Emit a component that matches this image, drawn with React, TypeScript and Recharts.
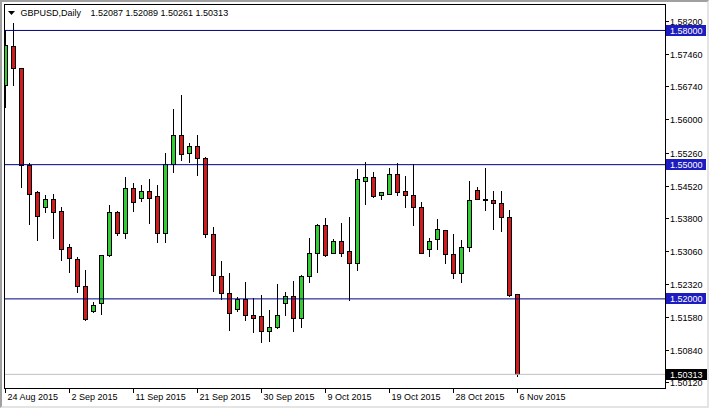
import React from "react"
import { Bar, ComposedChart, ReferenceLine, XAxis, YAxis } from "recharts"

// daily GBPUSD bars, 24 Aug 2015 .. 6 Nov 2015 (broker feed incl. sunday bars)
const opens = [
  1.5678, 1.5763, 1.5714, 1.5499, 1.5437, 1.5405, 1.5423, 1.5396, 1.5314, 1.5289,
  1.5227, 1.5171, 1.5189, 1.5296, 1.5394, 1.5347, 1.5446, 1.5425, 1.5441, 1.5428,
  1.5347, 1.5501, 1.5566, 1.5524, 1.554, 1.5513, 1.5345, 1.5251, 1.5211, 1.5177,
  1.5198, 1.5162, 1.516, 1.5126, 1.5137, 1.5189, 1.5206, 1.5157, 1.5249, 1.5302,
  1.5365, 1.5302, 1.5329, 1.5307, 1.528, 1.5463, 1.5472, 1.543, 1.5434, 1.5477,
  1.5439, 1.543, 1.5405, 1.5311, 1.5332, 1.5352, 1.53, 1.5256, 1.5314, 1.5443,
  1.5421, 1.5421, 1.5414, 1.5381, 1.52087,
]
const highs = [
  1.5801, 1.5817, 1.5716, 1.5504, 1.5441, 1.5432, 1.5434, 1.5405, 1.5323, 1.5294,
  1.5265, 1.5193, 1.5298, 1.541, 1.5396, 1.5472, 1.5459, 1.5455, 1.5468, 1.5455,
  1.5526, 1.5624, 1.5656, 1.5548, 1.5566, 1.5517, 1.5361, 1.5285, 1.5258, 1.5204,
  1.5238, 1.5202, 1.5209, 1.5175, 1.5233, 1.5215, 1.524, 1.5253, 1.5336, 1.5367,
  1.5381, 1.5334, 1.537, 1.5383, 1.549, 1.5506, 1.5484, 1.5437, 1.5492, 1.5504,
  1.5475, 1.5501, 1.5416, 1.5336, 1.5379, 1.5352, 1.5345, 1.5332, 1.5463, 1.545,
  1.5492, 1.5441, 1.5441, 1.5399, 1.52089,
]
const lows = [
  1.5627, 1.5676, 1.5448, 1.5365, 1.5329, 1.5392, 1.5334, 1.5285, 1.5258, 1.5213,
  1.5151, 1.5168, 1.5164, 1.5294, 1.5341, 1.5334, 1.5394, 1.5416, 1.5367, 1.5325,
  1.5325, 1.5481, 1.5508, 1.5504, 1.5475, 1.5336, 1.5215, 1.5198, 1.5128, 1.5171,
  1.5151, 1.5124, 1.5101, 1.5104, 1.5133, 1.5162, 1.5126, 1.5135, 1.5235, 1.5258,
  1.5294, 1.53, 1.5294, 1.5195, 1.5262, 1.541, 1.5425, 1.5421, 1.5432, 1.543,
  1.5403, 1.5363, 1.53, 1.5294, 1.5309, 1.5278, 1.5244, 1.5235, 1.5305, 1.5421,
  1.5396, 1.5354, 1.535, 1.5204, 1.50261,
]
const closes = [
  1.5767, 1.5714, 1.5499, 1.5434, 1.5385, 1.5423, 1.5394, 1.5311, 1.5291, 1.5227,
  1.5155, 1.5186, 1.5296, 1.5394, 1.5347, 1.5446, 1.5416, 1.5441, 1.5425, 1.5347,
  1.5501, 1.5566, 1.5522, 1.554, 1.5513, 1.5345, 1.5253, 1.5211, 1.5168, 1.5198,
  1.5162, 1.5157, 1.5126, 1.5137, 1.5162, 1.5206, 1.5157, 1.5251, 1.5302, 1.5365,
  1.5298, 1.5329, 1.5302, 1.528, 1.5466, 1.5472, 1.5428, 1.5437, 1.5477, 1.5437,
  1.543, 1.5405, 1.5302, 1.5329, 1.5354, 1.53, 1.5256, 1.5314, 1.5421, 1.5423,
  1.5421, 1.5414, 1.5381, 1.5207, 1.50313,
]

const tickIndex = [0, 8, 16, 24, 32, 40, 48, 56, 64]
const tickLabels = [
  "24 Aug 2015", "2 Sep 2015", "11 Sep 2015", "21 Sep 2015", "30 Sep 2015",
  "9 Oct 2015", "19 Oct 2015", "28 Oct 2015", "6 Nov 2015",
]
const priceTicks = [
  1.582, 1.5746, 1.5674, 1.56, 1.5526, 1.5452, 1.538, 1.5306, 1.5232, 1.5158, 1.5084, 1.5012,
]
const levels = [1.58, 1.55, 1.52]
const symbol = "GBPUSD,Daily"

const FONT = "Liberation Sans, Arial, sans-serif"
const last = opens.length - 1
const lastClose = closes[last]

const data = opens.map((o, i) => ({
  idx: i,
  open: o,
  high: highs[i],
  low: lows[i],
  close: closes[i],
  range: [lows[i], highs[i]],
}))

const half = (v: number) => Math.round(v - 0.5) + 0.5

function Candle(props: any) {
  const { x, y, width, height, payload } = props
  const { open, close, high, low } = payload
  const cx = half(x + width / 2)
  const top = Math.min(y, y + height)
  const h = Math.abs(height)
  const py = (v: number) => top + ((high - v) / (high - low)) * h
  const yo = py(open)
  const yc = py(close)
  const b0 = Math.min(yo, yc)
  const b1 = Math.max(yo, yc)
  const color = close > open ? "#32cd32" : "#d01c1c"
  return (
    <g shapeRendering="crispEdges">
      <line x1={cx} x2={cx} y1={top} y2={top + h} stroke="#000" />
      {close === open ? (
        <line x1={cx - 2.5} x2={cx + 2.5} y1={yo} y2={yo} stroke="#000" strokeWidth={2} />
      ) : (
        <rect x={cx - 2} y={b0} width={4} height={Math.max(b1 - b0, 1)} fill={color} stroke="#000" />
      )}
    </g>
  )
}

function DateTick(props: any) {
  const { x, y, payload } = props
  const i = tickIndex.indexOf(payload.value)
  const tx = half(x)
  return (
    <g>
      <line x1={tx} x2={tx} y1={y} y2={y + 5} stroke="#000" shapeRendering="crispEdges" />
      <text x={tx + 2} y={y + 12} fontSize={9} fontFamily={FONT} fill="#000">
        {tickLabels[i]}
      </text>
    </g>
  )
}

function PriceTick(props: any) {
  const { x, y, payload } = props
  const v = payload.value
  const ty = half(y)
  const label = v.toFixed(5)
  if (levels.includes(v) || v === lastClose) {
    const current = v === lastClose
    return (
      <g>
        <rect
          x={current ? x : x + 1}
          y={ty - 5.5}
          width={current ? 45 : 40}
          height={11}
          fill={current ? "#000" : "#1c1cc0"}
        />
        <text x={x + 5} y={ty + 3.3} fontSize={9} fontFamily={FONT} fill="#fff">
          {label}
        </text>
      </g>
    )
  }
  return (
    <g>
      <line x1={x + 1} x2={x + 4} y1={ty} y2={ty} stroke="#000" shapeRendering="crispEdges" />
      <text x={x + 5} y={ty + 3.3} fontSize={9} fontFamily={FONT} fill="#000">
        {label}
      </text>
    </g>
  )
}

export default function App() {
  const axisTicks = [...priceTicks, ...levels, lastClose]
  return (
    <div
      style={{
        position: "absolute",
        left: 0,
        top: 0,
        width: 709,
        height: 408,
        boxSizing: "border-box",
        background: "#fff",
        borderTop: "2px solid #a0a0a0",
        borderLeft: "2px solid #a0a0a0",
        borderRight: "2px solid #e4e4e4",
        borderBottom: "2px solid #e4e4e4",
      }}
    >
      <ComposedChart
        width={705}
        height={404}
        data={data}
        margin={{ top: 2, right: 0, bottom: 0, left: 2 }}
      >
        <XAxis
          dataKey="idx"
          type="number"
          domain={[-0.1875, 82.4375]}
          allowDataOverflow
          ticks={tickIndex}
          interval={0}
          height={18}
          axisLine={false}
          tickLine={false}
          tickSize={0}
          tickMargin={0}
          tick={<DateTick />}
        />
        <YAxis
          orientation="right"
          type="number"
          domain={[1.50008, 1.58591]}
          allowDataOverflow
          ticks={axisTicks}
          interval={0}
          width={42}
          axisLine={false}
          tickLine={false}
          tickSize={0}
          tickMargin={0}
          tick={<PriceTick />}
        />
        <ReferenceLine y={lastClose} stroke="#c0c0c0" />
        {levels.map((lv) => (
          <ReferenceLine key={lv} y={lv} stroke="#000080" />
        ))}
        <Bar
          dataKey="range"
          barSize={5}
          isAnimationActive={false}
          shape={(p: any) => <Candle {...p} />}
        />
      </ComposedChart>
      <div
        style={{
          position: "absolute",
          left: 2,
          top: 2,
          width: 662,
          height: 385,
          boxSizing: "border-box",
          border: "1px solid #000",
          pointerEvents: "none",
        }}
      />
      <svg
        width={705}
        height={404}
        style={{ position: "absolute", left: 0, top: 0, pointerEvents: "none" }}
      >
        <polygon points="6,9 13,9 9.5,13" fill="#000" />
        <text x={18.5} y={14} fontSize={9} fontFamily={FONT} fill="#000">
          {symbol}
        </text>
        <text x={88.5} y={14} fontSize={9} fontFamily={FONT} fill="#000">
          {[opens[last], highs[last], lows[last], closes[last]].map((v) => v.toFixed(5)).join(" ")}
        </text>
      </svg>
    </div>
  )
}
